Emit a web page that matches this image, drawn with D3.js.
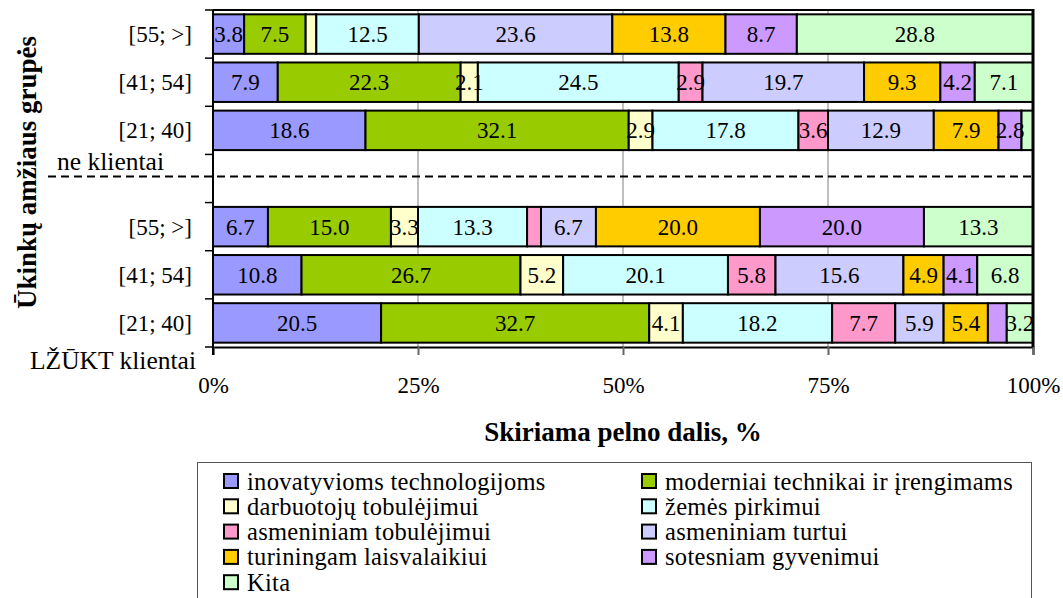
<!DOCTYPE html>
<html>
<head>
<meta charset="utf-8">
<script src="https://cdn.jsdelivr.net/npm/d3@7"></script>
<style>
  html, body { margin: 0; padding: 0; background: #fff; }
  svg { display: block; font-family: "Liberation Serif", "Times New Roman", serif; }
</style>
</head>
<body>
<svg id="chart" width="1063" height="598"></svg>
<script>
// ---- data ----
const rowLabels = ["[55; >]", "[41; 54]", "[21; 40]", "", "[55; >]", "[41; 54]", "[21; 40]"];
const groupLabels = ["ne klientai", "LŽŪKT klientai"];
const seriesNames = [
  "inovatyvioms technologijoms",
  "moderniai technikai ir įrengimams",
  "darbuotojų tobulėjimui",
  "žemės pirkimui",
  "asmeniniam tobulėjimui",
  "asmeniniam turtui",
  "turiningam laisvalaikiui",
  "sotesniam gyvenimui",
  "Kita"
];
const seriesColors = ["#9999FF", "#99CC00", "#FFFFCC", "#CCFFFF", "#FF99CC", "#CCCCFF", "#FFCC00", "#CC99FF", "#CCFFCC"];
const inovatyvioms = [3.8, 7.9, 18.6, null, 6.7, 10.8, 20.5];
const moderniai    = [7.5, 22.3, 32.1, null, 15.0, 26.7, 32.7];
const darbuotoju   = [1.3, 2.1, 2.9, null, 3.3, 5.2, 4.1];
const zemes        = [12.5, 24.5, 17.8, null, 13.3, 20.1, 18.2];
const asmTobulejimui = [0, 2.9, 3.6, null, 1.7, 5.8, 7.7];
const asmTurtui    = [23.6, 19.7, 12.9, null, 6.7, 15.6, 5.9];
const turiningam   = [13.8, 9.3, 7.9, null, 20.0, 4.9, 5.4];
const sotesniam    = [8.7, 4.2, 2.8, null, 20.0, 4.1, 2.3];
const kita         = [28.8, 7.1, 1.4, null, 13.3, 6.8, 3.2];
const seriesValues = [inovatyvioms, moderniai, darbuotoju, zemes, asmTobulejimui, asmTurtui, turiningam, sotesniam, kita];
// segments whose value label is not printed in the original: [row, series]
const unlabeled = [[0, 2], [2, 8], [4, 4], [6, 7]];
const xTicks = [0, 25, 50, 75, 100];
const xTitle = "Skiriama pelno dalis, %";
const yTitle = "Ūkinkų amžiaus grupės";

// ---- layout ----
const FONT = "'Liberation Serif', 'Times New Roman', serif";
const svg = d3.select("#chart");
const L = 213, R = 1033, T = 10, B = 347;
const x = d3.scaleLinear().domain([0, 100]).range([L, R]);
const rows = d3.range(rowLabels.length);
const yBand = d3.scaleBand().domain(rows).range([T, B]).padding(0);
const yBar = d3.scaleBand().domain(rows).range([T, B]).paddingInner(0.18).paddingOuter(0.09);

svg.append("rect").attr("width", 1063).attr("height", 598).attr("fill", "#fff");

// gridlines
svg.append("g").selectAll("line").data([25, 50, 75]).join("line")
  .attr("x1", d => x(d)).attr("x2", d => x(d))
  .attr("y1", T).attr("y2", B)
  .attr("stroke", "#808080").attr("stroke-width", 1);

// stacked segments
const segs = [];
rows.forEach(r => {
  let acc = 0;
  seriesValues.forEach((vals, s) => {
    const v = vals[r];
    if (v == null) return;
    segs.push({ r, s, x0: acc, x1: acc + v, v });
    acc += v;
  });
});
svg.append("g").selectAll("rect").data(segs.filter(d => d.v > 0)).join("rect")
  .attr("x", d => x(d.x0))
  .attr("y", d => yBar(d.r))
  .attr("width", d => x(d.x1) - x(d.x0))
  .attr("height", yBar.bandwidth())
  .attr("fill", d => seriesColors[d.s])
  .attr("stroke", "#000").attr("stroke-width", 2);

const isHidden = d => unlabeled.some(u => u[0] === d.r && u[1] === d.s);
svg.append("g").selectAll("text").data(segs.filter(d => d.v > 0 && !isHidden(d))).join("text")
  .attr("x", d => (x(d.x0) + x(d.x1)) / 2)
  .attr("y", d => yBar(d.r) + yBar.bandwidth() / 2)
  .attr("dy", "0.35em")
  .attr("text-anchor", "middle")
  .attr("font-family", FONT)
  .attr("font-size", 23)
  .attr("fill", "#000")
  .text(d => d3.format(".1f")(d.v));

// dashed separator
const sepRow = rowLabels.indexOf("");
svg.append("line")
  .attr("x1", 48).attr("x2", R)
  .attr("y1", yBand(sepRow) + yBand.bandwidth() / 2 - 2)
  .attr("y2", yBand(sepRow) + yBand.bandwidth() / 2 - 2)
  .attr("stroke", "#000").attr("stroke-width", 2).attr("stroke-dasharray", "8,5");

// plot frame: top and right
svg.append("line").attr("x1", L).attr("x2", R).attr("y1", T).attr("y2", T).attr("stroke", "#000").attr("stroke-width", 2);
svg.append("line").attr("x1", R).attr("x2", R).attr("y1", T - 1).attr("y2", B).attr("stroke", "#000").attr("stroke-width", 3);

// x axis
const xAxis = svg.append("g").attr("transform", `translate(0,${B})`)
  .call(d3.axisBottom(x).tickValues(xTicks).tickFormat(d => d + "%").tickSize(8).tickPadding(22));
xAxis.select(".domain").attr("stroke", "#000").attr("stroke-width", 2);
xAxis.selectAll(".tick line").attr("stroke", "#666").attr("stroke-width", 2);
xAxis.selectAll(".tick text").attr("font-size", 23).attr("font-family", FONT).attr("fill", "#000");

// y axis (ticks at band boundaries)
svg.append("line").attr("x1", L).attr("x2", L).attr("y1", T).attr("y2", B + 8).attr("stroke", "#000").attr("stroke-width", 2);
svg.append("g").selectAll("line").data(d3.range(rowLabels.length + 1)).join("line")
  .attr("x1", L - 8).attr("x2", L)
  .attr("y1", i => T + i * yBand.step()).attr("y2", i => T + i * yBand.step())
  .attr("stroke", "#000").attr("stroke-width", 1.5);

svg.append("g").selectAll("text").data(rows.filter(r => rowLabels[r] !== "")).join("text")
  .attr("x", 192)
  .attr("y", r => yBand(r) + yBand.bandwidth() / 2)
  .attr("dy", "0.35em")
  .attr("text-anchor", "end")
  .attr("font-family", FONT)
  .attr("font-size", 23)
  .text(r => rowLabels[r]);

// group labels
svg.append("text").attr("x", 164).attr("y", 170).attr("text-anchor", "end")
  .attr("font-family", FONT).attr("font-size", 25.5).text(groupLabels[0]);
svg.append("text").attr("x", 196).attr("y", 369).attr("text-anchor", "end")
  .attr("font-family", FONT).attr("font-size", 25.5).text(groupLabels[1]);

// axis titles
svg.append("text").attr("x", (L + R) / 2).attr("y", 441).attr("text-anchor", "middle")
  .attr("font-family", FONT).attr("font-size", 27).attr("font-weight", "bold").text(xTitle);
svg.append("text").attr("transform", `translate(36,${(T + B) / 2 - 6}) rotate(-90)`)
  .attr("text-anchor", "middle")
  .attr("font-family", FONT).attr("font-size", 27).attr("font-weight", "bold").text(yTitle);

// legend
svg.append("rect").attr("x", 197.5).attr("y", 462.5).attr("width", 834).attr("height", 200)
  .attr("fill", "#fff").attr("stroke", "#555").attr("stroke-width", 1);
const legX = [247, 665], legY0 = 481, legDy = 25.3;
const leg = svg.append("g").selectAll("g").data(seriesNames).join("g")
  .attr("transform", (d, i) => `translate(${legX[i % 2]},${legY0 + Math.floor(i / 2) * legDy})`);
leg.append("rect").attr("x", -23).attr("y", -7).attr("width", 14).attr("height", 14)
  .attr("fill", (d, i) => seriesColors[i]).attr("stroke", "#000").attr("stroke-width", 2);
leg.append("text").attr("x", 0).attr("dy", "0.35em")
  .attr("font-family", FONT).attr("font-size", 24.5).attr("letter-spacing", 0.3).text(d => d);
</script>
</body>
</html>
